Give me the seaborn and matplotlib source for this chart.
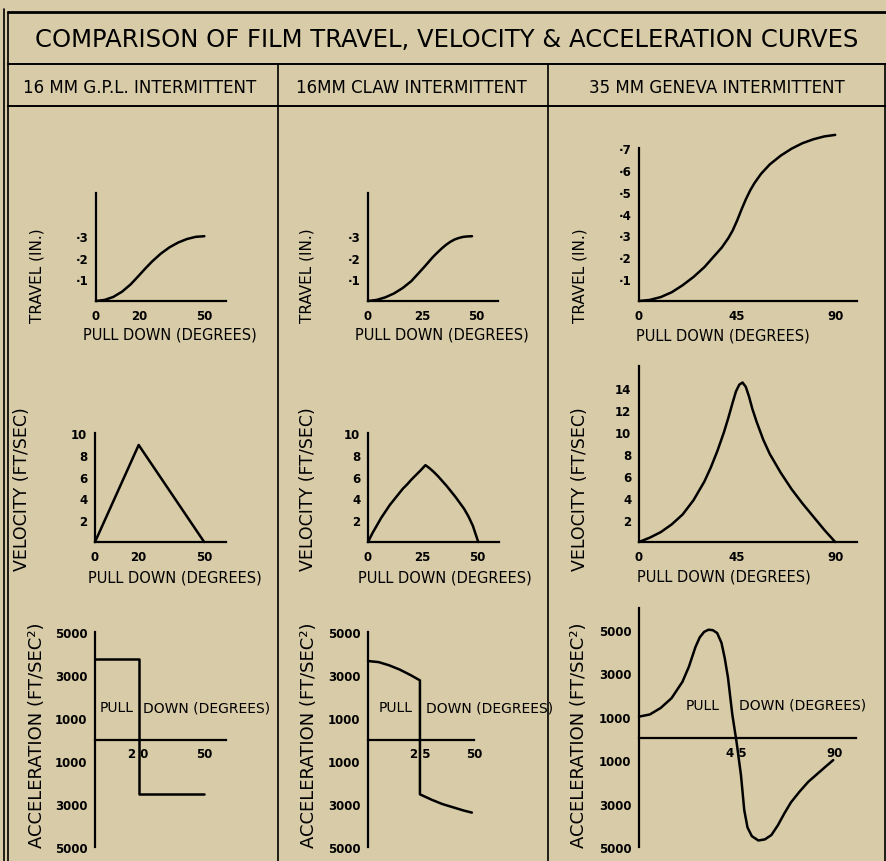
import numpy as np
import pandas as pd
import matplotlib
matplotlib.use('Agg')
import matplotlib.pyplot as plt
from matplotlib.lines import Line2D
import seaborn as sns

# ---- data ----
# travel (in.)
gpl_travel_deg = [0, 4, 8, 12, 16, 20, 23, 26, 30, 34, 38, 42, 46, 50]
gpl_travel = [0, 0.005, 0.019, 0.043, 0.077, 0.12, 0.153, 0.184, 0.22, 0.249, 0.271, 0.287, 0.297, 0.3]
claw_travel_deg = [0, 4, 8, 12, 16, 20, 24, 26, 28, 30, 32, 34, 36, 38, 40, 42, 44, 46, 48]
claw_travel = [0, 0.005, 0.017, 0.035, 0.06, 0.092, 0.136, 0.158, 0.181, 0.204, 0.224, 0.243, 0.26,
               0.274, 0.285, 0.292, 0.297, 0.299, 0.3]
gen_travel_deg = [0, 5, 10, 15, 20, 25, 30, 34, 38, 41, 43, 45, 47, 49, 51, 53, 56, 60, 65, 70, 75,
                  80, 85, 90]
gen_travel = [0, 0.005, 0.018, 0.04, 0.072, 0.11, 0.155, 0.2, 0.245, 0.288, 0.323, 0.368, 0.418,
              0.465, 0.506, 0.54, 0.582, 0.625, 0.665, 0.697, 0.722, 0.74, 0.753, 0.76]

# velocity (ft/sec)
gpl_vel_deg = [0, 20, 50]
gpl_vel = [0, 8.9, 0]
claw_vel_deg = [0, 2, 4, 6, 8, 10, 12, 14, 16, 18, 20, 22, 24, 26.3, 28, 30, 32, 34, 36, 38, 40,
                42, 44, 46, 48, 50.5]
claw_vel = [0, 0.8, 1.5, 2.2, 2.8, 3.4, 3.9, 4.4, 4.9, 5.3, 5.75, 6.15, 6.55, 7.05, 6.8, 6.45,
            6.05, 5.6, 5.15, 4.65, 4.15, 3.6, 3.05, 2.35, 1.5, 0]
gen_vel_deg = [0, 5, 10, 15, 20, 25, 30, 33, 36, 39, 41, 43, 44.5, 46, 47.5, 49, 50.5, 52, 54, 57,
               60, 65, 70, 75, 80, 85, 90]
gen_vel = [0, 0.4, 0.9, 1.6, 2.5, 3.8, 5.5, 6.8, 8.3, 10.0, 11.3, 12.7, 13.7, 14.3, 14.5, 14.1,
           13.2, 12.1, 10.9, 9.3, 8.0, 6.3, 4.8, 3.5, 2.3, 1.1, 0]

# acceleration (ft/sec^2)
gpl_acc_deg = [0, 20, 20, 50]
gpl_acc = [3750, 3750, -2550, -2550]
claw_acc_deg = [0, 5, 10, 15, 20, 24.5, 24.5, 30, 35, 40, 45, 49]
claw_acc = [3650, 3600, 3450, 3250, 3000, 2750, -2550, -2800, -3000, -3150, -3300, -3400]
gen_acc_deg = [0, 5, 10, 15, 20, 23, 26, 28, 30, 32, 34, 36, 38, 39.5, 41, 43, 45, 47, 48.5, 50,
               52, 55, 58, 61, 64, 67, 70, 74, 78, 82, 86, 89.5]
gen_acc = [1000, 1100, 1400, 1850, 2600, 3300, 4200, 4650, 4900, 5000, 4980, 4850, 4400, 3700,
           2800, 1100, -200, -1700, -3300, -4100, -4500, -4700, -4650, -4450, -4000, -3450, -2950,
           -2450, -2000, -1650, -1300, -1000]

title = 'COMPARISON OF FILM TRAVEL, VELOCITY & ACCELERATION CURVES'
headers = ['16 MM G.P.L. INTERMITTENT', '16MM CLAW INTERMITTENT', '35 MM GENEVA INTERMITTENT']

W, H = 887, 862
bg = '#d8cba7'

sns.set_theme(style='white')
plt.rcParams['font.family'] = ['DejaVu Sans']
plt.rcParams['axes.facecolor'] = 'none'
plt.rcParams['text.color'] = 'black'

fig = plt.figure(figsize=(W / 100, H / 100), dpi=100)
fig.patch.set_facecolor(bg)


def fx(x):
    return x / W


def fy(y):
    return 1 - y / H


def make_ax(x0, x1, ytop, ybot):
    return fig.add_axes([fx(x0), fy(ybot), (x1 - x0) / W, (ybot - ytop) / H])


def style(ax, xlim, ylim, zero=False):
    ax.set_xlim(xlim)
    ax.set_ylim(ylim)
    ax.spines['top'].set_visible(False)
    ax.spines['right'].set_visible(False)
    for s in ['left', 'bottom']:
        ax.spines[s].set_linewidth(1.6)
        ax.spines[s].set_color('black')
    if zero:
        ax.spines['bottom'].set_position(('data', 0))
    ax.tick_params(which='both', direction='inout', length=7, width=1.2, colors='black',
                   labelsize=8.5, pad=2)
    ax.set_xlabel('')
    ax.set_ylabel('')
    ax.grid(False)


def draw(ax, x, y):
    sns.lineplot(x=x, y=y, ax=ax, color='black', linewidth=1.8, estimator=None, sort=False,
                 clip_on=False)


def xticks(ax, ticks, labels, minor, big=None):
    ax.set_xticks(ticks, labels, fontweight='bold', fontsize=8.5)
    ax.set_xticks(minor, minor=True)
    if big is not None:
        t = ax.xaxis.get_major_ticks()[big]
        t.tick1line.set_markersize(14)


def yticks(ax, ticks, labels, minor):
    ax.set_yticks(ticks, labels, fontweight='bold', fontsize=8.5)
    ax.set_yticks(minor, minor=True)


# ---- travel row ----
ax = make_ax(96, 226, 194, 302)
draw(ax, gpl_travel_deg, gpl_travel)
style(ax, (0, 60), (0, 0.5))
xticks(ax, [0, 20, 50], ['0', '20', '50'], [10, 30, 40, 60])
yticks(ax, [0.1, 0.2, 0.3], ['\u00b71', '\u00b72', '\u00b73'], [0.4, 0.5])

ax = make_ax(368, 498, 194, 302)
draw(ax, claw_travel_deg, claw_travel)
style(ax, (0, 60), (0, 0.5))
xticks(ax, [0, 25, 50], ['0', '25', '50'], [10, 20, 30, 40, 60], big=1)
yticks(ax, [0.1, 0.2, 0.3], ['\u00b71', '\u00b72', '\u00b73'], [0.4, 0.5])

ax = make_ax(639, 857, 149, 302)
draw(ax, gen_travel_deg, gen_travel)
style(ax, (0, 100), (0, 0.7))
xticks(ax, [0, 45, 90], ['0', '45', '90'], [10, 20, 30, 40, 50, 60, 70, 80, 100], big=1)
yticks(ax, [0.1, 0.2, 0.3, 0.4, 0.5, 0.6, 0.7],
       ['\u00b7' + str(i) for i in range(1, 8)], [])

# ---- velocity row ----
ax = make_ax(95, 226, 434, 543)
draw(ax, gpl_vel_deg, gpl_vel)
style(ax, (0, 60), (0, 10))
xticks(ax, [0, 20, 50], ['0', '20', '50'], [10, 30, 40, 60])
yticks(ax, [2, 4, 6, 8, 10], ['2', '4', '6', '8', '10'], [])

ax = make_ax(368, 499, 434, 543)
draw(ax, claw_vel_deg, claw_vel)
style(ax, (0, 60), (0, 10))
xticks(ax, [0, 25, 50], ['0', '25', '50'], [10, 20, 30, 40, 60], big=1)
yticks(ax, [2, 4, 6, 8, 10], ['2', '4', '6', '8', '10'], [])

ax = make_ax(639, 857, 367, 543)
draw(ax, gen_vel_deg, gen_vel)
style(ax, (0, 100), (0, 16))
xticks(ax, [0, 45, 90], ['0', '45', '90'], [10, 20, 30, 40, 50, 60, 70, 80, 100], big=1)
yticks(ax, [2, 4, 6, 8, 10, 12, 14], ['2', '4', '6', '8', '10', '12', '14'], [16])

# ---- acceleration row ----
acc_ticks = [5000, 3000, 1000, -1000, -3000, -5000]
acc_labels = ['5000', '3000', '1000', '1000', '3000', '5000']

ax = make_ax(95, 226, 633, 848)
draw(ax, gpl_acc_deg, gpl_acc)
style(ax, (0, 60), (-5000, 5000), zero=True)
xticks(ax, [20, 50], ['2 0', '50'], [10, 30, 40, 60])
yticks(ax, acc_ticks, acc_labels, [4000, 2000, -2000, -4000])
ax.text(17.5, 1500, 'PULL', ha='right', va='center', fontsize=10)
ax.text(22, 1500, 'DOWN (DEGREES)', ha='left', va='center', fontsize=10)

ax = make_ax(368, 474, 633, 848)
draw(ax, claw_acc_deg, claw_acc)
style(ax, (0, 50), (-5000, 5000), zero=True)
xticks(ax, [24.5, 50], ['2 5', '50'], [10, 20, 30, 40])
yticks(ax, acc_ticks, acc_labels, [4000, 2000, -2000, -4000])
ax.text(21, 1500, 'PULL', ha='right', va='center', fontsize=10)
ax.text(27.5, 1500, 'DOWN (DEGREES)', ha='left', va='center', fontsize=10)

ax = make_ax(639, 856, 609, 848)
draw(ax, gen_acc_deg, gen_acc)
style(ax, (0, 100), (-5000, 6000), zero=True)
xticks(ax, [45, 90], ['4 5', '90'], [10, 20, 30, 40, 50, 60, 70, 80, 100])
yticks(ax, acc_ticks, acc_labels, [6000, 4000, 2000, -2000, -4000])
ax.text(37, 1550, 'PULL', ha='right', va='center', fontsize=10)
ax.text(46, 1550, 'DOWN (DEGREES)', ha='left', va='center', fontsize=10)

# ---- axis labels ----
for x in [37, 307, 580]:
    fig.text(fx(x), fy(276), 'TRAVEL (IN.)', rotation=90, ha='center', va='center', fontsize=11)
for x in [22, 308, 580]:
    fig.text(fx(x), fy(489), 'VELOCITY (FT/SEC)', rotation=90, ha='center', va='center',
             fontsize=12.5)
for x in [37, 309, 579]:
    fig.text(fx(x), fy(735), 'ACCELERATION (FT/SEC\u00b2)', rotation=90, ha='center', va='center',
             fontsize=13)
for x, y in [(170, 335), (442, 335), (723, 336), (175, 578), (445, 578), (724, 577)]:
    fig.text(fx(x), fy(y), 'PULL DOWN (DEGREES)', ha='center', va='center', fontsize=10.5)

# ---- table frame and titles ----
fig.text(fx(447), fy(40), title, ha='center', va='center', fontsize=17.5)
for x, h in zip([140, 411, 717], headers):
    fig.text(fx(x), fy(88), h, ha='center', va='center', fontsize=12)

frame = [
    ([4, 4], [10, 862], 1.2), ([8, 8], [13, 862], 1.2),
    ([8, 887], [13, 13], 2.0), ([8, 887], [65, 65], 1.4), ([8, 887], [107, 107], 1.4),
    ([278, 278], [65, 862], 1.2), ([548, 548], [65, 862], 1.2), ([885, 885], [65, 862], 1.2),
]
for xs, ys, lw in frame:
    fig.add_artist(Line2D([fx(v) for v in xs], [fy(v) for v in ys], color='black', linewidth=lw))

fig.savefig('out.png', dpi=100, facecolor=bg)
